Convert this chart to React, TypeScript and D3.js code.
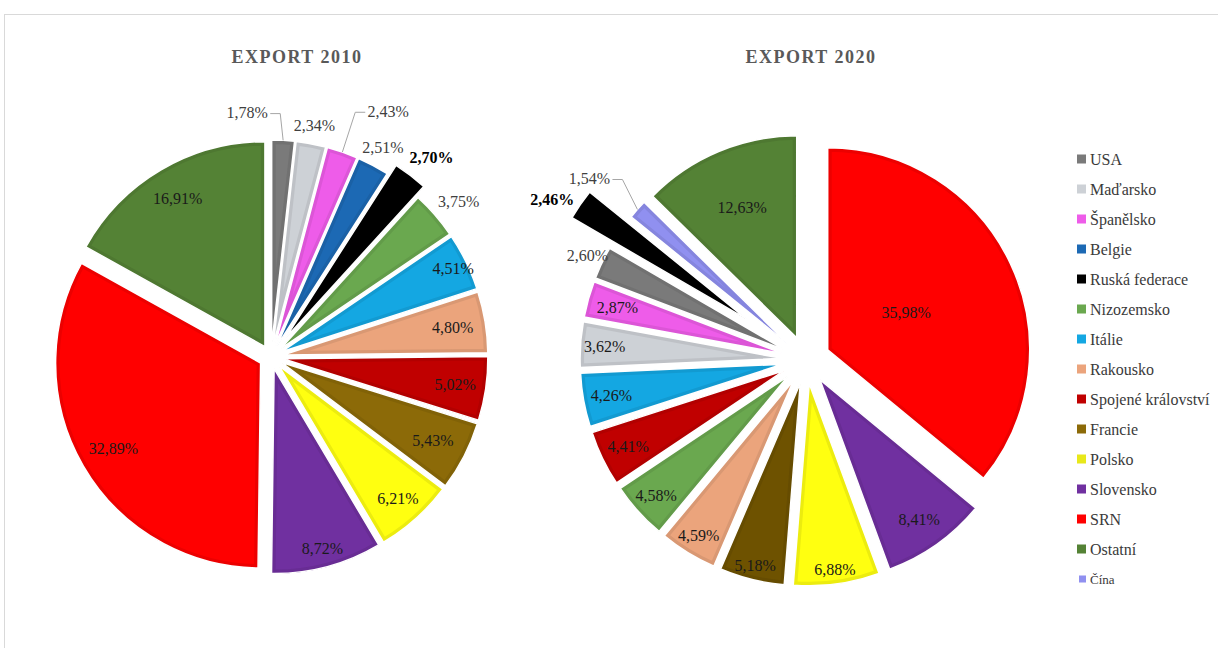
import React, { useEffect } from 'react';
import * as d3 from 'd3';

// ---------- data ----------
const countries2010 = ['USA', 'Maďarsko', 'Španělsko', 'Belgie', 'Ruská federace', 'Nizozemsko', 'Itálie', 'Rakousko', 'Spojené království', 'Francie', 'Polsko', 'Slovensko', 'SRN', 'Ostatní'];
const values2010 = [1.78, 2.34, 2.43, 2.51, 2.70, 3.75, 4.51, 4.80, 5.02, 5.43, 6.21, 8.72, 32.89, 16.91];

const countries2020 = ['SRN', 'Slovensko', 'Polsko', 'Francie', 'Rakousko', 'Nizozemsko', 'Spojené království', 'Itálie', 'Maďarsko', 'Španělsko', 'USA', 'Ruská federace', 'Čína', 'Ostatní'];
const values2020 = [35.98, 8.41, 6.88, 5.18, 4.59, 4.58, 4.41, 4.26, 3.62, 2.87, 2.60, 2.46, 1.54, 12.63];

const legendItems = ['USA', 'Maďarsko', 'Španělsko', 'Belgie', 'Ruská federace', 'Nizozemsko', 'Itálie', 'Rakousko', 'Spojené království', 'Francie', 'Polsko', 'Slovensko', 'SRN', 'Ostatní', 'Čína'];
const titles = ['EXPORT 2010', 'EXPORT 2020'];

// ---------- styles ----------
const colorOf: Record<string, string> = {
  'USA': '#7a7a7a',
  'Maďarsko': '#cdd1d6',
  'Španělsko': '#ee5ce9',
  'Belgie': '#1c69b4',
  'Ruská federace': '#000000',
  'Nizozemsko': '#6aa84f',
  'Itálie': '#14a7e2',
  'Rakousko': '#eba47c',
  'Spojené království': '#c00000',
  'Francie': '#8c6a08',
  'Polsko': '#ffff10',
  'Slovensko': '#7030a0',
  'SRN': '#ff0000',
  'Ostatní': '#548235',
  'Čína': '#9090f0',
};
const colorOverride2020: Record<string, string> = { 'Francie': '#6e5200' };
const legendColorOf: Record<string, string> = { 'Polsko': '#e8e81a' };

const FONT = '"Liberation Serif", "Times New Roman", Times, serif';

type LabelCfg = { r: number; ang?: number; leader?: boolean };
// label placement (fraction of radius, measured from the exploded slice apex)
const labels2010: LabelCfg[] = [
  { r: 1.14, ang: -6, leader: true }, { r: 1.09 }, { r: 1.27, ang: 25.8, leader: true }, { r: 1.10 },
  { r: 1.13, ang: 39 }, { r: 1.13, ang: 50.4 }, { r: 0.93 }, { r: 0.84 }, { r: 0.85 }, { r: 0.83 },
  { r: 0.87 }, { r: 0.91 }, { r: 0.83 }, { r: 0.84 },
];
const labels2020: LabelCfg[] = [
  { r: 0.43 }, { r: 0.85 }, { r: 0.93 }, { r: 0.93 }, { r: 0.9 }, { r: 0.88 }, { r: 0.86 }, { r: 0.86 },
  { r: 0.88 }, { r: 0.85 }, { r: 1.08 }, { r: 1.13, ang: 301.6 }, { r: 1.28, ang: 309.8, leader: true }, { r: 0.70 },
];

const fmt = (v: number) => v.toFixed(2).replace('.', ',') + '%';

type PieProps = {
  id: string;
  names: string[];
  values: number[];
  cx: number; cy: number; R: number; e: number; eBig: number;
  labelsCfg: LabelCfg[];
  override?: Record<string, string>;
  outsideThreshold: number;
};

function Pie({ id, names, values, cx, cy, R, e, eBig, labelsCfg, override, outsideThreshold }: PieProps) {
  const pie = d3.pie<number>().sort(null).value((d) => d).startAngle(0).endAngle(2 * Math.PI);
  const arcs = pie(values);
  const arcGen = d3.arc<d3.PieArcDatum<number>>().innerRadius(0).outerRadius(R);
  const toRad = (deg: number) => (deg * Math.PI) / 180;

  return (
    <g>
      {arcs.map((a, i) => {
        const name = names[i];
        const col = (override && override[name]) || colorOf[name];
        const border = d3.color(col)!.darker(0.22).formatHex();
        const mid = (a.startAngle + a.endAngle) / 2;
        const ex = name === 'Ruská federace' ? eBig : e;
        const ax = cx + Math.sin(mid) * ex;
        const ay = cy - Math.cos(mid) * ex;
        const d = arcGen(a) || '';
        const clipId = `${id}-clip-${i}`;
        return (
          <g key={i} transform={`translate(${ax},${ay})`}>
            <clipPath id={clipId}><path d={d} /></clipPath>
            <path d={d} fill={col} />
            <path d={d} fill="none" stroke={border} strokeWidth={8} clipPath={`url(#${clipId})`} />
            <path d={d} fill="none" stroke="#ffffff" strokeWidth={1.5} strokeLinejoin="round" />
          </g>
        );
      })}
      {arcs.map((a, i) => {
        const name = names[i];
        const cfg = labelsCfg[i];
        const mid = (a.startAngle + a.endAngle) / 2;
        const ex = name === 'Ruská federace' ? eBig : e;
        const ax = cx + Math.sin(mid) * ex;
        const ay = cy - Math.cos(mid) * ex;
        const la = cfg.ang !== undefined ? toRad(cfg.ang) : mid;
        const lx = ax + Math.sin(la) * cfg.r * R;
        const ly = ay - Math.cos(la) * cfg.r * R;
        const text = fmt(values[i]);
        const bold = name === 'Ruská federace';
        const outside = cfg.r > outsideThreshold;
        let leader: string | null = null;
        if (cfg.leader) {
          const tx = ax + Math.sin(mid) * R;
          const ty = ay - Math.cos(mid) * R;
          const hw = text.length * 4.2;
          const dir = tx > lx ? 1 : -1;
          const sx = lx + dir * (hw + 2);
          const sy = ly + 1;
          const hx = sx + dir * Math.min(10, Math.abs(tx - sx));
          leader = `M${sx},${sy}L${hx},${sy}L${tx},${ty}`;
        }
        return (
          <g key={'l' + i}>
            {leader && <path d={leader} fill="none" stroke="#a6a6a6" strokeWidth={1} />}
            <text
              x={lx}
              y={ly}
              textAnchor="middle"
              dominantBaseline="central"
              style={{ fontFamily: FONT, fontSize: '16px', fontWeight: bold ? 700 : 400 }}
              fill={bold ? '#000000' : outside ? '#404040' : '#1a1a1a'}
            >
              {text}
            </text>
          </g>
        );
      })}
    </g>
  );
}

export default function App() {
  useEffect(() => {
    document.body.style.margin = '0';
  }, []);
  return (
    <svg
      width={1218}
      height={648}
      style={{ position: 'absolute', left: 0, top: 0, background: '#ffffff', display: 'block', fontFamily: FONT }}
    >
      <rect x={0} y={0} width={1218} height={648} fill="#ffffff" />
      <rect x={4.5} y={14.5} width={1300} height={700} fill="none" stroke="#d9d9d9" strokeWidth={1} />

      <text x={297} y={57} textAnchor="middle" dominantBaseline="central"
        style={{ fontFamily: FONT, fontSize: '18px', fontWeight: 700, letterSpacing: '1.5px' }}
        fill="#595959">{titles[0]}</text>
      <text x={811} y={57} textAnchor="middle" dominantBaseline="central"
        style={{ fontFamily: FONT, fontSize: '18px', fontWeight: 700, letterSpacing: '1.5px' }}
        fill="#595959">{titles[1]}</text>

      <Pie id="p2010" names={countries2010} values={values2010} cx={271} cy={357} R={205} e={12} eBig={24}
        labelsCfg={labels2010} outsideThreshold={1} />
      <Pie id="p2020" names={countries2020} values={values2020} cx={806} cy={360} R={202} e={24} eBig={72}
        labelsCfg={labels2020} override={colorOverride2020} outsideThreshold={1} />

      {legendItems.map((name, i) => {
        const y = 159 + i * 30;
        const small = name === 'Čína';
        const s = small ? 7 : 9;
        return (
          <g key={name}>
            <rect x={small ? 1079 : 1077} y={y - s / 2} width={s} height={s} fill={legendColorOf[name] || colorOf[name]} />
            <text x={1090} y={y} dominantBaseline="central"
              style={{ fontFamily: FONT, fontSize: small ? '13px' : '16px' }} fill="#3a3a3a">
              {name}
            </text>
          </g>
        );
      })}
    </svg>
  );
}
